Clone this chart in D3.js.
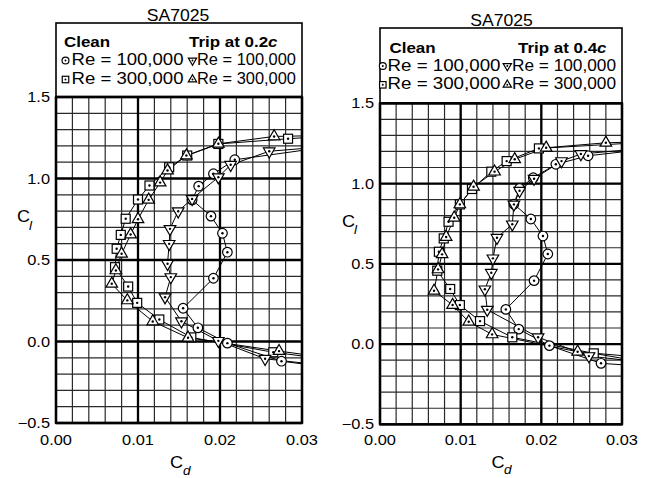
<!DOCTYPE html>
<html><head><meta charset="utf-8">
<script src="https://cdn.jsdelivr.net/npm/d3@7"></script>
<style>body{margin:0;background:#fff}text{font-family:"Liberation Sans",Arial,Helvetica,sans-serif;fill:#000}</style>
</head><body><svg id="c" width="652" height="478"></svg>
<script>
// ---------- data ----------
const chartTitle = "SA7025";
const cdTicks = [0.00, 0.01, 0.02, 0.03];
const clTicks = [-0.5, 0.0, 0.5, 1.0, 1.5];
const tripLocations = ["0.2", "0.4"];
const reLabels = ["Re = 100,000", "Re = 300,000"];

// Left panel: trip at 0.2c   [Cd, Cl]
const L_clean100 = [[0.0330,-0.156],[0.0275,-0.121],[0.0209,-0.010],[0.0173,0.084],[0.0155,0.204],[0.0192,0.388],[0.0209,0.548],[0.0203,0.664],[0.0189,0.769],[0.0166,0.869],[0.0174,0.953],[0.0192,1.029],[0.0218,1.115],[0.0340,1.200]];
const L_clean300 = [[0.0330,-0.108],[0.0265,-0.066],[0.0165,0.025],[0.0126,0.135],[0.0099,0.237],[0.0088,0.337],[0.0072,0.456],[0.0074,0.569],[0.0079,0.654],[0.0085,0.753],[0.0100,0.871],[0.0114,0.957],[0.0138,1.069],[0.0160,1.141],[0.0198,1.212],[0.0283,1.244],[0.0340,1.262]];
const L_trip100  = [[0.0330,-0.148],[0.0255,-0.106],[0.0198,0.004],[0.0153,0.124],[0.0133,0.272],[0.0140,0.395],[0.0136,0.477],[0.0138,0.599],[0.0139,0.691],[0.0149,0.799],[0.0166,0.875],[0.0198,1.008],[0.0213,1.084],[0.0260,1.167],[0.0340,1.200]];
const L_trip300  = [[0.0330,-0.098],[0.0272,-0.059],[0.0161,0.023],[0.0118,0.123],[0.0087,0.252],[0.0068,0.354],[0.0073,0.436],[0.0080,0.538],[0.0091,0.656],[0.0100,0.750],[0.0113,0.869],[0.0127,0.975],[0.0136,1.049],[0.0159,1.141],[0.0198,1.213],[0.0266,1.258],[0.0340,1.265]];

// Right panel: trip at 0.4c
const R_clean100 = [[0.0330,-0.140],[0.0274,-0.120],[0.0210,-0.010],[0.0172,0.093],[0.0156,0.216],[0.0191,0.395],[0.0208,0.561],[0.0202,0.673],[0.0187,0.779],[0.0166,0.872],[0.0173,0.970],[0.0190,1.036],[0.0218,1.120],[0.0258,1.173],[0.0340,1.220]];
const R_clean300 = [[0.0330,-0.115],[0.0265,-0.058],[0.0164,0.042],[0.0124,0.143],[0.0099,0.243],[0.0087,0.343],[0.0071,0.457],[0.0073,0.575],[0.0079,0.658],[0.0085,0.762],[0.0099,0.870],[0.0114,0.966],[0.0138,1.074],[0.0157,1.140],[0.0197,1.219],[0.0340,1.260]];
const R_trip100  = [[0.0330,-0.115],[0.0259,-0.075],[0.0196,0.042],[0.0133,0.214],[0.0130,0.341],[0.0138,0.444],[0.0140,0.534],[0.0145,0.662],[0.0164,0.746],[0.0166,0.870],[0.0173,0.955],[0.0191,1.030],[0.0225,1.140],[0.0249,1.184],[0.0340,1.225]];
const R_trip300  = [[0.0330,-0.085],[0.0245,-0.048],[0.0139,0.060],[0.0110,0.139],[0.0090,0.243],[0.0067,0.332],[0.0072,0.465],[0.0077,0.559],[0.0082,0.667],[0.0092,0.787],[0.0099,0.870],[0.0116,0.980],[0.0142,1.074],[0.0167,1.151],[0.0206,1.223],[0.0280,1.254],[0.0340,1.262]];

// ---------- layout ----------
const SX = 1.13;
const kinds = ["circle", "square", "down", "up"];
const panels = [
  {series:[L_clean100, L_clean300, L_trip100, L_trip300], trip:tripLocations[0],
   x0:56, x1:302, yTop:97, yBot:423, boxTop:23, titleX:178, titleY:20.5,
   headY:47, rowY:[65, 84], symX:[65.5, 192.5], txtX:[71.5, 197], txtW:[112, 99], cleanX:64, tripX:189,
   clLab:[17, 222, 29, 230], cdLab:[170, 468, 183, 474.5], yLabR:50},
  {series:[R_clean100, R_clean300, R_trip100, R_trip300], trip:tripLocations[1],
   x0:380, x1:622, yTop:103.3, yBot:424.3, boxTop:28, titleX:501.5, titleY:26,
   headY:52.5, rowY:[70.5, 89.3], symX:[382.8, 507.3], txtX:[387.5, 512], txtW:[113, 104], cleanX:389.5, tripX:518,
   clLab:[342, 227, 354, 234], cdLab:[491.5, 467.5, 504, 473.5], yLabR:374}
];

const svg = d3.select("#c");

function txt(g, x, y, anchor, size, weight, str, sx = SX) {
  return g.append("text")
    .attr("transform", `translate(${x},${y}) scale(${sx},1)`)
    .attr("text-anchor", anchor).attr("font-size", size)
    .attr("font-weight", weight).text(str);
}

function marker(g, kind, x, y, s) {
  const m = g.append("g").attr("transform", `translate(${x},${y})`);
  const st = {fill: "#fff", stroke: "#000", "stroke-width": 1.2};
  let el;
  if (kind === "circle") el = m.append("circle").attr("r", 4.8 * s);
  else if (kind === "square") el = m.append("rect").attr("x", -4.5 * s).attr("y", -4.5 * s).attr("width", 9 * s).attr("height", 9 * s);
  else {
    const p = d3.symbol().type(d3.symbolTriangle).size(58 * s * s)();
    el = m.append("path").attr("d", p).attr("transform", kind === "down" ? "rotate(180)" : null);
  }
  Object.entries(st).forEach(([k, v]) => el.attr(k, v));
  m.append("circle").attr("r", 1.2 * Math.max(s, 0.8)).attr("fill", "#000");
}

panels.forEach((P, pi) => {
  const g = svg.append("g");
  const x = d3.scaleLinear().domain([cdTicks[0], cdTicks[cdTicks.length - 1]]).range([P.x0, P.x1]);
  const y = d3.scaleLinear().domain([clTicks[0], clTicks[clTicks.length - 1]]).range([P.yBot, P.yTop]);

  // title
  txt(g, P.titleX, P.titleY, "middle", 16, "normal", chartTitle, 1.1);

  // legend box
  g.append("rect").attr("x", P.x0).attr("y", P.boxTop).attr("width", P.x1 - P.x0).attr("height", P.yTop - P.boxTop)
    .attr("fill", "none").attr("stroke", "#000").attr("stroke-width", 1.6);
  txt(g, P.cleanX, P.headY, "start", 15, "bold", "Clean");
  const t = txt(g, P.tripX, P.headY, "start", 15, "bold", null);
  t.append("tspan").text("Trip at " + P.trip);
  t.append("tspan").attr("font-style", "italic").text("c");
  [0, 1].forEach(col => {
    [0, 1].forEach(row => {
      const k = kinds[col * 2 + row];
      marker(g, k, P.symX[col], P.rowY[row] - 4.5, 0.72);
      g.append("text").attr("x", P.txtX[col]).attr("y", P.rowY[row])
        .attr("font-size", 16).attr("textLength", P.txtW[col]).attr("lengthAdjust", "spacingAndGlyphs")
        .text(reLabels[row]);
    });
  });

  // grid
  const minorX = d3.range(0, 0.03001, 0.002);
  const minorY = d3.range(-5, 16, 1).map(v => v / 10);
  const grid = g.append("g");
  grid.selectAll(".vx").data(minorX).join("line")
    .attr("x1", d => x(d)).attr("x2", d => x(d)).attr("y1", P.yTop).attr("y2", P.yBot)
    .attr("stroke", "#2a2a2a").attr("stroke-width", 1.2);
  grid.selectAll(".hy").data(minorY).join("line")
    .attr("y1", d => y(d)).attr("y2", d => y(d)).attr("x1", P.x0).attr("x2", P.x1)
    .attr("stroke", "#2a2a2a").attr("stroke-width", 1.2);
  const major = g.append("g");
  major.selectAll(".mx").data(cdTicks).join("line")
    .attr("x1", d => x(d)).attr("x2", d => x(d)).attr("y1", P.yTop).attr("y2", P.yBot)
    .attr("stroke", "#000").attr("stroke-width", 2.3);
  major.selectAll(".my").data(clTicks).join("line")
    .attr("y1", d => y(d)).attr("y2", d => y(d)).attr("x1", P.x0).attr("x2", P.x1)
    .attr("stroke", "#000").attr("stroke-width", 2.3);

  // tick labels
  cdTicks.forEach(v => txt(g, x(v), 445, "middle", 14.5, "normal", d3.format(".2f")(v)));
  clTicks.forEach(v => txt(g, P.yLabR, y(v) + 5, "end", 14.5, "normal", d3.format(".1f")(v).replace("-", "\u2212")));

  // axis titles
  txt(g, P.clLab[0], P.clLab[1], "start", 16, "normal", "C");
  txt(g, P.clLab[2], P.clLab[3], "start", 12, "normal", "l").attr("font-style", "italic");
  txt(g, P.cdLab[0], P.cdLab[1], "start", 16, "normal", "C");
  txt(g, P.cdLab[2], P.cdLab[3], "start", 12, "normal", "d").attr("font-style", "italic");

  // data
  const cid = "clip" + pi;
  svg.append("clipPath").attr("id", cid).append("rect")
    .attr("x", P.x0).attr("y", P.yTop).attr("width", P.x1 - P.x0).attr("height", P.yBot - P.yTop);
  const dg = g.append("g").attr("clip-path", `url(#${cid})`);
  const line = d3.line().x(d => x(d[0])).y(d => y(d[1]));
  P.series.forEach(s => dg.append("path").attr("d", line(s)).attr("fill", "none").attr("stroke", "#000").attr("stroke-width", 1));
  P.series.forEach((s, i) => s.forEach(d => marker(dg, kinds[i], x(d[0]), y(d[1]), 1)));

  // frame
  g.append("rect").attr("x", P.x0).attr("y", P.yTop).attr("width", P.x1 - P.x0).attr("height", P.yBot - P.yTop)
    .attr("fill", "none").attr("stroke", "#000").attr("stroke-width", 2.3);
});
</script></body></html>
